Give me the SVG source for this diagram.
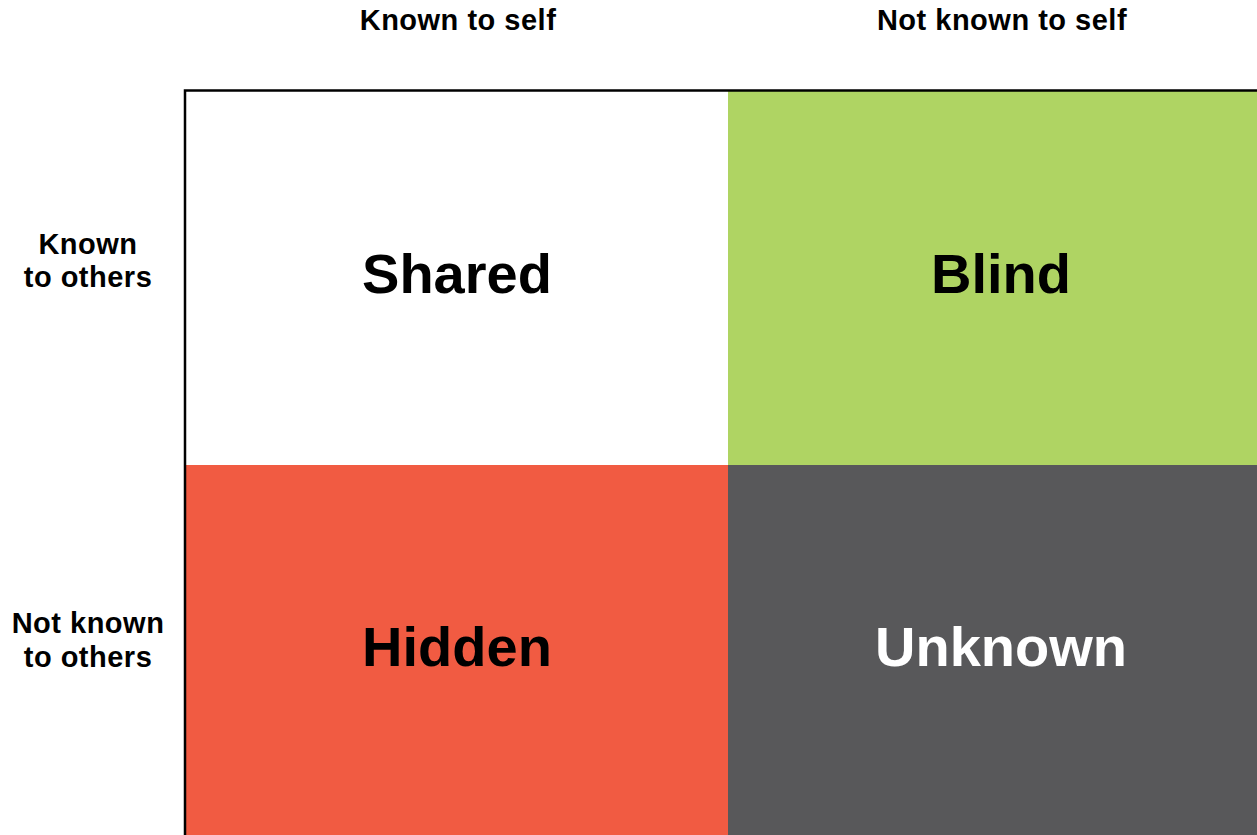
<svg xmlns="http://www.w3.org/2000/svg" width="1257" height="835" viewBox="0 0 1257 835">
<style>
.h{font-family:"Liberation Sans",Arial,sans-serif;font-weight:bold;font-size:29px;letter-spacing:0.5px;fill:#000;text-anchor:middle}
.q{font-family:"Liberation Sans",Arial,sans-serif;font-weight:bold;font-size:56px;text-anchor:middle}
</style>
<rect width="1257" height="835" fill="#fff"/>
<g id="shared"><rect x="185" y="90" width="543" height="375" fill="#fff"/><text class="q" x="457" y="293" fill="#000">Shared</text></g>
<g id="blind"><rect x="728" y="90" width="529" height="375" fill="#AFD463"/><text class="q" x="1001" y="293" fill="#000">Blind</text></g>
<g id="hidden"><rect x="185" y="465" width="543" height="370" fill="#F15B42"/><text class="q" x="457" y="666" fill="#000">Hidden</text></g>
<g id="unknown"><rect x="728" y="465" width="529" height="370" fill="#58585A"/><text class="q" x="1001" y="666" fill="#fff">Unknown</text></g>
<g id="frame"><path d="M185 840 V90.5 H1262" fill="none" stroke="#000" stroke-width="2.5"/></g>
<g id="labels">
<text class="h" x="458" y="30">Known to self</text>
<text class="h" x="1002" y="30">Not known to self</text>
<text class="h" x="88" y="254">Known</text>
<text class="h" x="88" y="287">to others</text>
<text class="h" x="88" y="633">Not known</text>
<text class="h" x="88" y="667">to others</text>
</g>
</svg>
